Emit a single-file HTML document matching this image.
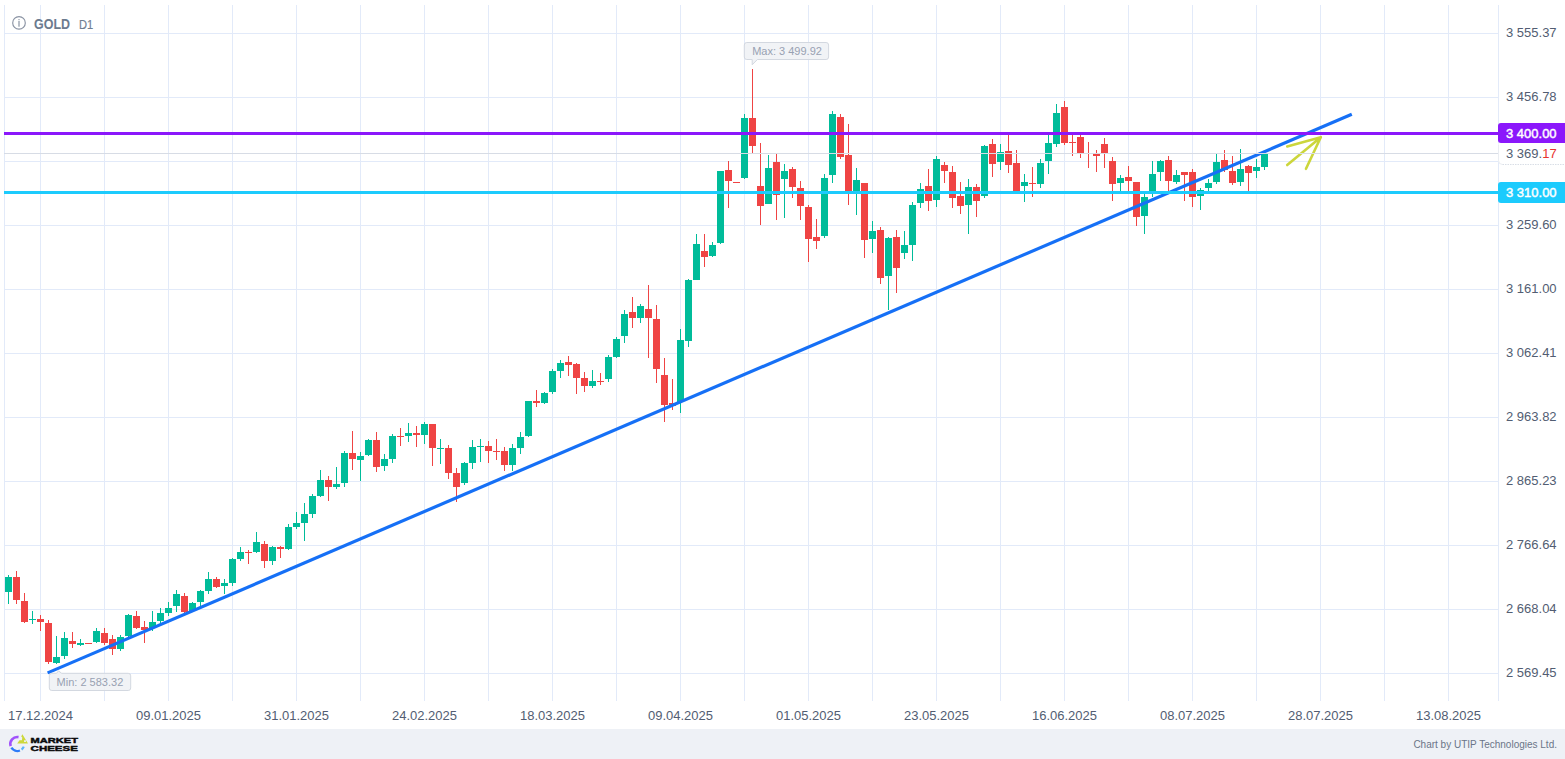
<!DOCTYPE html>
<html><head><meta charset="utf-8"><style>
html,body{margin:0;padding:0;background:#fff;}
body{width:1565px;height:759px;overflow:hidden;position:relative;font-family:"Liberation Sans",sans-serif;}
svg{position:absolute;left:0;top:0;}
text{font-family:"Liberation Sans",sans-serif;}
</style></head><body>
<svg width="1565" height="759" viewBox="0 0 1565 759">
<g shape-rendering="crispEdges">
<rect x="40" y="5" width="1" height="696" fill="#e2eaf9"/>
<rect x="104" y="5" width="1" height="696" fill="#e2eaf9"/>
<rect x="168" y="5" width="1" height="696" fill="#e2eaf9"/>
<rect x="232" y="5" width="1" height="696" fill="#e2eaf9"/>
<rect x="296" y="5" width="1" height="696" fill="#e2eaf9"/>
<rect x="360" y="5" width="1" height="696" fill="#e2eaf9"/>
<rect x="424" y="5" width="1" height="696" fill="#e2eaf9"/>
<rect x="488" y="5" width="1" height="696" fill="#e2eaf9"/>
<rect x="552" y="5" width="1" height="696" fill="#e2eaf9"/>
<rect x="616" y="5" width="1" height="696" fill="#e2eaf9"/>
<rect x="680" y="5" width="1" height="696" fill="#e2eaf9"/>
<rect x="744" y="5" width="1" height="696" fill="#e2eaf9"/>
<rect x="808" y="5" width="1" height="696" fill="#e2eaf9"/>
<rect x="872" y="5" width="1" height="696" fill="#e2eaf9"/>
<rect x="936" y="5" width="1" height="696" fill="#e2eaf9"/>
<rect x="1000" y="5" width="1" height="696" fill="#e2eaf9"/>
<rect x="1064" y="5" width="1" height="696" fill="#e2eaf9"/>
<rect x="1128" y="5" width="1" height="696" fill="#e2eaf9"/>
<rect x="1192" y="5" width="1" height="696" fill="#e2eaf9"/>
<rect x="1256" y="5" width="1" height="696" fill="#e2eaf9"/>
<rect x="1320" y="5" width="1" height="696" fill="#e2eaf9"/>
<rect x="1384" y="5" width="1" height="696" fill="#e2eaf9"/>
<rect x="1448" y="5" width="1" height="696" fill="#e2eaf9"/>
<rect x="4" y="5" width="1" height="696" fill="#e2eaf9"/>
<rect x="1498" y="5" width="1" height="696" fill="#e2eaf9"/>
<rect x="4" y="33" width="1494" height="1" fill="#e2eaf9"/>
<rect x="4" y="97" width="1494" height="1" fill="#e2eaf9"/>
<rect x="4" y="161" width="1494" height="1" fill="#e2eaf9"/>
<rect x="4" y="225" width="1494" height="1" fill="#e2eaf9"/>
<rect x="4" y="289" width="1494" height="1" fill="#e2eaf9"/>
<rect x="4" y="353" width="1494" height="1" fill="#e2eaf9"/>
<rect x="4" y="417" width="1494" height="1" fill="#e2eaf9"/>
<rect x="4" y="481" width="1494" height="1" fill="#e2eaf9"/>
<rect x="4" y="545" width="1494" height="1" fill="#e2eaf9"/>
<rect x="4" y="609" width="1494" height="1" fill="#e2eaf9"/>
<rect x="4" y="673" width="1494" height="1" fill="#e2eaf9"/>
<rect x="8" y="575" width="1" height="29" fill="#00bc9a"/>
<rect x="5" y="577" width="7" height="15" fill="#00bc9a"/>
<rect x="16" y="571" width="1" height="33" fill="#ef4444"/>
<rect x="13" y="577" width="7" height="23" fill="#ef4444"/>
<rect x="24" y="593" width="1" height="30" fill="#ef4444"/>
<rect x="21" y="601" width="7" height="21" fill="#ef4444"/>
<rect x="32" y="611" width="1" height="13" fill="#00bc9a"/>
<rect x="29" y="619" width="7" height="1" fill="#00bc9a"/>
<rect x="40" y="615" width="1" height="16" fill="#ef4444"/>
<rect x="37" y="619" width="7" height="3" fill="#ef4444"/>
<rect x="48" y="620" width="1" height="44" fill="#ef4444"/>
<rect x="45" y="623" width="7" height="39" fill="#ef4444"/>
<rect x="56" y="636" width="1" height="28" fill="#00bc9a"/>
<rect x="53" y="657" width="7" height="6" fill="#00bc9a"/>
<rect x="64" y="632" width="1" height="27" fill="#00bc9a"/>
<rect x="61" y="638" width="7" height="18" fill="#00bc9a"/>
<rect x="72" y="632" width="1" height="16" fill="#ef4444"/>
<rect x="69" y="641" width="7" height="3" fill="#ef4444"/>
<rect x="80" y="639" width="1" height="7" fill="#00bc9a"/>
<rect x="77" y="643" width="7" height="2" fill="#00bc9a"/>
<rect x="85" y="643" width="7" height="1" fill="#ef4444"/>
<rect x="96" y="628" width="1" height="15" fill="#00bc9a"/>
<rect x="93" y="631" width="7" height="11" fill="#00bc9a"/>
<rect x="104" y="628" width="1" height="17" fill="#ef4444"/>
<rect x="101" y="633" width="7" height="10" fill="#ef4444"/>
<rect x="112" y="635" width="1" height="20" fill="#ef4444"/>
<rect x="109" y="639" width="7" height="10" fill="#ef4444"/>
<rect x="120" y="635" width="1" height="16" fill="#00bc9a"/>
<rect x="117" y="637" width="7" height="12" fill="#00bc9a"/>
<rect x="128" y="614" width="1" height="24" fill="#00bc9a"/>
<rect x="125" y="615" width="7" height="21" fill="#00bc9a"/>
<rect x="136" y="611" width="1" height="18" fill="#ef4444"/>
<rect x="133" y="616" width="7" height="12" fill="#ef4444"/>
<rect x="144" y="621" width="1" height="22" fill="#ef4444"/>
<rect x="141" y="627" width="7" height="3" fill="#ef4444"/>
<rect x="152" y="611" width="1" height="20" fill="#00bc9a"/>
<rect x="149" y="622" width="7" height="6" fill="#00bc9a"/>
<rect x="160" y="608" width="1" height="15" fill="#00bc9a"/>
<rect x="157" y="613" width="7" height="8" fill="#00bc9a"/>
<rect x="168" y="602" width="1" height="14" fill="#00bc9a"/>
<rect x="165" y="608" width="7" height="5" fill="#00bc9a"/>
<rect x="176" y="590" width="1" height="22" fill="#00bc9a"/>
<rect x="173" y="594" width="7" height="12" fill="#00bc9a"/>
<rect x="184" y="593" width="1" height="20" fill="#ef4444"/>
<rect x="181" y="596" width="7" height="16" fill="#ef4444"/>
<rect x="192" y="602" width="1" height="9" fill="#00bc9a"/>
<rect x="189" y="603" width="7" height="8" fill="#00bc9a"/>
<rect x="200" y="590" width="1" height="16" fill="#00bc9a"/>
<rect x="197" y="591" width="7" height="11" fill="#00bc9a"/>
<rect x="208" y="572" width="1" height="22" fill="#00bc9a"/>
<rect x="205" y="579" width="7" height="12" fill="#00bc9a"/>
<rect x="216" y="577" width="1" height="11" fill="#ef4444"/>
<rect x="213" y="579" width="7" height="8" fill="#ef4444"/>
<rect x="224" y="579" width="1" height="15" fill="#00bc9a"/>
<rect x="221" y="583" width="7" height="3" fill="#00bc9a"/>
<rect x="232" y="558" width="1" height="28" fill="#00bc9a"/>
<rect x="229" y="559" width="7" height="24" fill="#00bc9a"/>
<rect x="240" y="547" width="1" height="14" fill="#00bc9a"/>
<rect x="237" y="552" width="7" height="7" fill="#00bc9a"/>
<rect x="248" y="550" width="1" height="14" fill="#ef4444"/>
<rect x="245" y="552" width="7" height="1" fill="#ef4444"/>
<rect x="256" y="532" width="1" height="21" fill="#00bc9a"/>
<rect x="253" y="542" width="7" height="10" fill="#00bc9a"/>
<rect x="264" y="541" width="1" height="27" fill="#ef4444"/>
<rect x="261" y="544" width="7" height="17" fill="#ef4444"/>
<rect x="272" y="546" width="1" height="19" fill="#00bc9a"/>
<rect x="269" y="547" width="7" height="14" fill="#00bc9a"/>
<rect x="280" y="546" width="1" height="12" fill="#ef4444"/>
<rect x="277" y="547" width="7" height="2" fill="#ef4444"/>
<rect x="288" y="524" width="1" height="26" fill="#00bc9a"/>
<rect x="285" y="527" width="7" height="22" fill="#00bc9a"/>
<rect x="296" y="512" width="1" height="17" fill="#00bc9a"/>
<rect x="293" y="523" width="7" height="4" fill="#00bc9a"/>
<rect x="304" y="503" width="1" height="38" fill="#00bc9a"/>
<rect x="301" y="514" width="7" height="9" fill="#00bc9a"/>
<rect x="312" y="494" width="1" height="24" fill="#00bc9a"/>
<rect x="309" y="496" width="7" height="18" fill="#00bc9a"/>
<rect x="320" y="470" width="1" height="27" fill="#00bc9a"/>
<rect x="317" y="480" width="7" height="16" fill="#00bc9a"/>
<rect x="328" y="476" width="1" height="25" fill="#ef4444"/>
<rect x="325" y="480" width="7" height="7" fill="#ef4444"/>
<rect x="336" y="467" width="1" height="22" fill="#00bc9a"/>
<rect x="333" y="484" width="7" height="3" fill="#00bc9a"/>
<rect x="344" y="451" width="1" height="36" fill="#00bc9a"/>
<rect x="341" y="453" width="7" height="30" fill="#00bc9a"/>
<rect x="352" y="431" width="1" height="39" fill="#ef4444"/>
<rect x="349" y="453" width="7" height="6" fill="#ef4444"/>
<rect x="360" y="452" width="1" height="29" fill="#00bc9a"/>
<rect x="357" y="456" width="7" height="4" fill="#00bc9a"/>
<rect x="368" y="439" width="1" height="17" fill="#00bc9a"/>
<rect x="365" y="440" width="7" height="15" fill="#00bc9a"/>
<rect x="376" y="432" width="1" height="40" fill="#ef4444"/>
<rect x="373" y="440" width="7" height="27" fill="#ef4444"/>
<rect x="384" y="454" width="1" height="17" fill="#00bc9a"/>
<rect x="381" y="459" width="7" height="7" fill="#00bc9a"/>
<rect x="392" y="434" width="1" height="29" fill="#00bc9a"/>
<rect x="389" y="436" width="7" height="23" fill="#00bc9a"/>
<rect x="400" y="428" width="1" height="18" fill="#ef4444"/>
<rect x="397" y="436" width="7" height="1" fill="#ef4444"/>
<rect x="408" y="423" width="1" height="19" fill="#00bc9a"/>
<rect x="405" y="433" width="7" height="3" fill="#00bc9a"/>
<rect x="416" y="426" width="1" height="21" fill="#ef4444"/>
<rect x="413" y="433" width="7" height="2" fill="#ef4444"/>
<rect x="424" y="422" width="1" height="22" fill="#00bc9a"/>
<rect x="421" y="424" width="7" height="11" fill="#00bc9a"/>
<rect x="432" y="424" width="1" height="42" fill="#ef4444"/>
<rect x="429" y="424" width="7" height="24" fill="#ef4444"/>
<rect x="440" y="439" width="1" height="25" fill="#00bc9a"/>
<rect x="437" y="448" width="7" height="1" fill="#00bc9a"/>
<rect x="448" y="445" width="1" height="34" fill="#ef4444"/>
<rect x="445" y="448" width="7" height="25" fill="#ef4444"/>
<rect x="456" y="468" width="1" height="34" fill="#ef4444"/>
<rect x="453" y="473" width="7" height="14" fill="#ef4444"/>
<rect x="464" y="462" width="1" height="23" fill="#00bc9a"/>
<rect x="461" y="463" width="7" height="20" fill="#00bc9a"/>
<rect x="472" y="440" width="1" height="29" fill="#00bc9a"/>
<rect x="469" y="447" width="7" height="16" fill="#00bc9a"/>
<rect x="480" y="439" width="1" height="23" fill="#00bc9a"/>
<rect x="477" y="446" width="7" height="1" fill="#00bc9a"/>
<rect x="488" y="441" width="1" height="22" fill="#ef4444"/>
<rect x="485" y="446" width="7" height="5" fill="#ef4444"/>
<rect x="496" y="439" width="1" height="21" fill="#ef4444"/>
<rect x="493" y="451" width="7" height="1" fill="#ef4444"/>
<rect x="504" y="447" width="1" height="24" fill="#ef4444"/>
<rect x="501" y="451" width="7" height="14" fill="#ef4444"/>
<rect x="512" y="444" width="1" height="27" fill="#00bc9a"/>
<rect x="509" y="448" width="7" height="17" fill="#00bc9a"/>
<rect x="520" y="432" width="1" height="22" fill="#00bc9a"/>
<rect x="517" y="437" width="7" height="11" fill="#00bc9a"/>
<rect x="528" y="401" width="1" height="36" fill="#00bc9a"/>
<rect x="525" y="401" width="7" height="35" fill="#00bc9a"/>
<rect x="536" y="390" width="1" height="17" fill="#ef4444"/>
<rect x="533" y="401" width="7" height="2" fill="#ef4444"/>
<rect x="544" y="392" width="1" height="12" fill="#00bc9a"/>
<rect x="541" y="393" width="7" height="10" fill="#00bc9a"/>
<rect x="552" y="369" width="1" height="25" fill="#00bc9a"/>
<rect x="549" y="371" width="7" height="21" fill="#00bc9a"/>
<rect x="560" y="360" width="1" height="18" fill="#00bc9a"/>
<rect x="557" y="363" width="7" height="8" fill="#00bc9a"/>
<rect x="568" y="356" width="1" height="20" fill="#ef4444"/>
<rect x="565" y="362" width="7" height="3" fill="#ef4444"/>
<rect x="576" y="363" width="1" height="31" fill="#ef4444"/>
<rect x="573" y="364" width="7" height="14" fill="#ef4444"/>
<rect x="584" y="372" width="1" height="20" fill="#ef4444"/>
<rect x="581" y="378" width="7" height="8" fill="#ef4444"/>
<rect x="592" y="370" width="1" height="18" fill="#00bc9a"/>
<rect x="589" y="381" width="7" height="5" fill="#00bc9a"/>
<rect x="600" y="373" width="1" height="12" fill="#ef4444"/>
<rect x="597" y="381" width="7" height="1" fill="#ef4444"/>
<rect x="608" y="355" width="1" height="27" fill="#00bc9a"/>
<rect x="605" y="357" width="7" height="22" fill="#00bc9a"/>
<rect x="616" y="337" width="1" height="21" fill="#00bc9a"/>
<rect x="613" y="339" width="7" height="18" fill="#00bc9a"/>
<rect x="624" y="310" width="1" height="33" fill="#00bc9a"/>
<rect x="621" y="314" width="7" height="22" fill="#00bc9a"/>
<rect x="632" y="297" width="1" height="31" fill="#ef4444"/>
<rect x="629" y="312" width="7" height="6" fill="#ef4444"/>
<rect x="640" y="304" width="1" height="19" fill="#00bc9a"/>
<rect x="637" y="306" width="7" height="12" fill="#00bc9a"/>
<rect x="648" y="285" width="1" height="73" fill="#ef4444"/>
<rect x="645" y="309" width="7" height="9" fill="#ef4444"/>
<rect x="656" y="305" width="1" height="78" fill="#ef4444"/>
<rect x="653" y="319" width="7" height="50" fill="#ef4444"/>
<rect x="664" y="358" width="1" height="64" fill="#ef4444"/>
<rect x="661" y="375" width="7" height="30" fill="#ef4444"/>
<rect x="672" y="379" width="1" height="31" fill="#ef4444"/>
<rect x="669" y="403" width="7" height="3" fill="#ef4444"/>
<rect x="680" y="329" width="1" height="84" fill="#00bc9a"/>
<rect x="677" y="340" width="7" height="62" fill="#00bc9a"/>
<rect x="688" y="279" width="1" height="68" fill="#00bc9a"/>
<rect x="685" y="280" width="7" height="61" fill="#00bc9a"/>
<rect x="696" y="234" width="1" height="46" fill="#00bc9a"/>
<rect x="693" y="244" width="7" height="36" fill="#00bc9a"/>
<rect x="704" y="234" width="1" height="33" fill="#ef4444"/>
<rect x="701" y="251" width="7" height="6" fill="#ef4444"/>
<rect x="712" y="242" width="1" height="15" fill="#00bc9a"/>
<rect x="709" y="245" width="7" height="11" fill="#00bc9a"/>
<rect x="720" y="171" width="1" height="73" fill="#00bc9a"/>
<rect x="717" y="171" width="7" height="72" fill="#00bc9a"/>
<rect x="728" y="161" width="1" height="47" fill="#ef4444"/>
<rect x="725" y="170" width="7" height="11" fill="#ef4444"/>
<rect x="733" y="182" width="7" height="1" fill="#ef4444"/>
<rect x="744" y="114" width="1" height="65" fill="#00bc9a"/>
<rect x="741" y="118" width="7" height="60" fill="#00bc9a"/>
<rect x="752" y="69" width="1" height="85" fill="#ef4444"/>
<rect x="749" y="118" width="7" height="28" fill="#ef4444"/>
<rect x="760" y="143" width="1" height="82" fill="#ef4444"/>
<rect x="757" y="186" width="7" height="20" fill="#ef4444"/>
<rect x="768" y="155" width="1" height="49" fill="#00bc9a"/>
<rect x="765" y="168" width="7" height="36" fill="#00bc9a"/>
<rect x="776" y="154" width="1" height="66" fill="#ef4444"/>
<rect x="773" y="162" width="7" height="33" fill="#ef4444"/>
<rect x="784" y="164" width="1" height="54" fill="#00bc9a"/>
<rect x="781" y="171" width="7" height="8" fill="#00bc9a"/>
<rect x="792" y="167" width="1" height="31" fill="#ef4444"/>
<rect x="789" y="169" width="7" height="18" fill="#ef4444"/>
<rect x="800" y="181" width="1" height="39" fill="#ef4444"/>
<rect x="797" y="188" width="7" height="18" fill="#ef4444"/>
<rect x="808" y="205" width="1" height="57" fill="#ef4444"/>
<rect x="805" y="207" width="7" height="32" fill="#ef4444"/>
<rect x="816" y="219" width="1" height="30" fill="#ef4444"/>
<rect x="813" y="237" width="7" height="4" fill="#ef4444"/>
<rect x="824" y="174" width="1" height="64" fill="#00bc9a"/>
<rect x="821" y="178" width="7" height="58" fill="#00bc9a"/>
<rect x="832" y="111" width="1" height="72" fill="#00bc9a"/>
<rect x="829" y="114" width="7" height="61" fill="#00bc9a"/>
<rect x="840" y="114" width="1" height="45" fill="#ef4444"/>
<rect x="837" y="117" width="7" height="40" fill="#ef4444"/>
<rect x="848" y="124" width="1" height="81" fill="#ef4444"/>
<rect x="845" y="155" width="7" height="36" fill="#ef4444"/>
<rect x="856" y="168" width="1" height="47" fill="#00bc9a"/>
<rect x="853" y="180" width="7" height="11" fill="#00bc9a"/>
<rect x="864" y="183" width="1" height="75" fill="#ef4444"/>
<rect x="861" y="183" width="7" height="57" fill="#ef4444"/>
<rect x="872" y="221" width="1" height="32" fill="#00bc9a"/>
<rect x="869" y="231" width="7" height="8" fill="#00bc9a"/>
<rect x="880" y="227" width="1" height="57" fill="#ef4444"/>
<rect x="877" y="230" width="7" height="48" fill="#ef4444"/>
<rect x="888" y="237" width="1" height="73" fill="#00bc9a"/>
<rect x="885" y="238" width="7" height="38" fill="#00bc9a"/>
<rect x="896" y="230" width="1" height="63" fill="#ef4444"/>
<rect x="893" y="237" width="7" height="31" fill="#ef4444"/>
<rect x="904" y="231" width="1" height="28" fill="#00bc9a"/>
<rect x="901" y="245" width="7" height="8" fill="#00bc9a"/>
<rect x="912" y="202" width="1" height="59" fill="#00bc9a"/>
<rect x="909" y="205" width="7" height="40" fill="#00bc9a"/>
<rect x="920" y="183" width="1" height="25" fill="#00bc9a"/>
<rect x="917" y="189" width="7" height="14" fill="#00bc9a"/>
<rect x="928" y="169" width="1" height="42" fill="#ef4444"/>
<rect x="925" y="186" width="7" height="15" fill="#ef4444"/>
<rect x="936" y="156" width="1" height="51" fill="#00bc9a"/>
<rect x="933" y="159" width="7" height="41" fill="#00bc9a"/>
<rect x="944" y="162" width="1" height="21" fill="#ef4444"/>
<rect x="941" y="165" width="7" height="6" fill="#ef4444"/>
<rect x="952" y="166" width="1" height="42" fill="#ef4444"/>
<rect x="949" y="172" width="7" height="26" fill="#ef4444"/>
<rect x="960" y="182" width="1" height="32" fill="#ef4444"/>
<rect x="957" y="196" width="7" height="10" fill="#ef4444"/>
<rect x="968" y="179" width="1" height="55" fill="#00bc9a"/>
<rect x="965" y="187" width="7" height="18" fill="#00bc9a"/>
<rect x="976" y="184" width="1" height="33" fill="#ef4444"/>
<rect x="973" y="187" width="7" height="14" fill="#ef4444"/>
<rect x="984" y="145" width="1" height="53" fill="#00bc9a"/>
<rect x="981" y="146" width="7" height="50" fill="#00bc9a"/>
<rect x="992" y="139" width="1" height="38" fill="#ef4444"/>
<rect x="989" y="144" width="7" height="20" fill="#ef4444"/>
<rect x="1000" y="144" width="1" height="26" fill="#00bc9a"/>
<rect x="997" y="152" width="7" height="10" fill="#00bc9a"/>
<rect x="1008" y="135" width="1" height="38" fill="#ef4444"/>
<rect x="1005" y="151" width="7" height="14" fill="#ef4444"/>
<rect x="1016" y="150" width="1" height="42" fill="#ef4444"/>
<rect x="1013" y="163" width="7" height="29" fill="#ef4444"/>
<rect x="1024" y="174" width="1" height="28" fill="#00bc9a"/>
<rect x="1021" y="182" width="7" height="4" fill="#00bc9a"/>
<rect x="1032" y="167" width="1" height="30" fill="#ef4444"/>
<rect x="1029" y="183" width="7" height="1" fill="#ef4444"/>
<rect x="1040" y="159" width="1" height="29" fill="#00bc9a"/>
<rect x="1037" y="163" width="7" height="21" fill="#00bc9a"/>
<rect x="1048" y="135" width="1" height="39" fill="#00bc9a"/>
<rect x="1045" y="143" width="7" height="18" fill="#00bc9a"/>
<rect x="1056" y="104" width="1" height="43" fill="#00bc9a"/>
<rect x="1053" y="113" width="7" height="31" fill="#00bc9a"/>
<rect x="1064" y="101" width="1" height="44" fill="#ef4444"/>
<rect x="1061" y="107" width="7" height="36" fill="#ef4444"/>
<rect x="1072" y="135" width="1" height="21" fill="#ef4444"/>
<rect x="1069" y="142" width="7" height="1" fill="#ef4444"/>
<rect x="1080" y="135" width="1" height="23" fill="#ef4444"/>
<rect x="1077" y="137" width="7" height="16" fill="#ef4444"/>
<rect x="1088" y="142" width="1" height="26" fill="#ef4444"/>
<rect x="1085" y="153" width="7" height="1" fill="#ef4444"/>
<rect x="1096" y="150" width="1" height="22" fill="#ef4444"/>
<rect x="1093" y="154" width="7" height="2" fill="#ef4444"/>
<rect x="1104" y="138" width="1" height="30" fill="#ef4444"/>
<rect x="1101" y="144" width="7" height="9" fill="#ef4444"/>
<rect x="1112" y="157" width="1" height="44" fill="#ef4444"/>
<rect x="1109" y="161" width="7" height="23" fill="#ef4444"/>
<rect x="1120" y="175" width="1" height="16" fill="#00bc9a"/>
<rect x="1117" y="178" width="7" height="5" fill="#00bc9a"/>
<rect x="1128" y="166" width="1" height="25" fill="#ef4444"/>
<rect x="1125" y="177" width="7" height="4" fill="#ef4444"/>
<rect x="1136" y="182" width="1" height="44" fill="#ef4444"/>
<rect x="1133" y="182" width="7" height="35" fill="#ef4444"/>
<rect x="1144" y="194" width="1" height="40" fill="#00bc9a"/>
<rect x="1141" y="197" width="7" height="19" fill="#00bc9a"/>
<rect x="1152" y="161" width="1" height="36" fill="#00bc9a"/>
<rect x="1149" y="174" width="7" height="20" fill="#00bc9a"/>
<rect x="1160" y="160" width="1" height="21" fill="#00bc9a"/>
<rect x="1157" y="161" width="7" height="11" fill="#00bc9a"/>
<rect x="1168" y="156" width="1" height="35" fill="#ef4444"/>
<rect x="1165" y="160" width="7" height="21" fill="#ef4444"/>
<rect x="1176" y="170" width="1" height="14" fill="#00bc9a"/>
<rect x="1173" y="175" width="7" height="7" fill="#00bc9a"/>
<rect x="1184" y="172" width="1" height="29" fill="#ef4444"/>
<rect x="1181" y="172" width="7" height="3" fill="#ef4444"/>
<rect x="1192" y="169" width="1" height="38" fill="#ef4444"/>
<rect x="1189" y="172" width="7" height="25" fill="#ef4444"/>
<rect x="1200" y="188" width="1" height="22" fill="#00bc9a"/>
<rect x="1197" y="190" width="7" height="6" fill="#00bc9a"/>
<rect x="1208" y="179" width="1" height="12" fill="#00bc9a"/>
<rect x="1205" y="183" width="7" height="5" fill="#00bc9a"/>
<rect x="1216" y="154" width="1" height="30" fill="#00bc9a"/>
<rect x="1213" y="162" width="7" height="20" fill="#00bc9a"/>
<rect x="1224" y="150" width="1" height="22" fill="#ef4444"/>
<rect x="1221" y="160" width="7" height="10" fill="#ef4444"/>
<rect x="1232" y="156" width="1" height="29" fill="#ef4444"/>
<rect x="1229" y="171" width="7" height="12" fill="#ef4444"/>
<rect x="1240" y="149" width="1" height="37" fill="#00bc9a"/>
<rect x="1237" y="169" width="7" height="13" fill="#00bc9a"/>
<rect x="1248" y="165" width="1" height="26" fill="#ef4444"/>
<rect x="1245" y="166" width="7" height="7" fill="#ef4444"/>
<rect x="1256" y="159" width="1" height="19" fill="#00bc9a"/>
<rect x="1253" y="167" width="7" height="4" fill="#00bc9a"/>
<rect x="1264" y="154" width="1" height="16" fill="#00bc9a"/>
<rect x="1261" y="154" width="7" height="13" fill="#00bc9a"/>
</g>
<line x1="47.6" y1="672.9" x2="1351.8" y2="114.3" stroke="#1670f6" stroke-width="3.2"/>
<path d="M1287.2 146.4 L1320.8 137.2 L1306 168.8 M1287.2 165 L1320.8 137.2" fill="none" stroke="#ccd63c" stroke-width="2.6" stroke-linecap="round" stroke-linejoin="round"/>
<g shape-rendering="crispEdges">
<rect x="4" y="153" width="1494" height="1" fill="#d7dce5"/>
<rect x="4" y="132" width="1494" height="3" fill="#8b17fb"/>
<rect x="4" y="191" width="1494" height="3" fill="#1ccbfd"/>
</g>

<!-- tooltips -->
<g>
<path d="M746.8 42.5 H826.1 A2.5 2.5 0 0 1 828.6 45 V57 A2.5 2.5 0 0 1 826.1 59.5 H757.4 L752.2 64.8 V59.5 H746.8 A2.5 2.5 0 0 1 744.3 57 V45 A2.5 2.5 0 0 1 746.8 42.5 Z" fill="rgba(238,241,245,0.85)" stroke="#d3d8e0" stroke-width="1"/>
<text x="752.2" y="55" font-size="11" fill="#98a1b2">Max: 3 499.92</text>
<path d="M51.8 673.3 H56.5 L58.5 670.9 L61.7 673.3 H128.2 A2.5 2.5 0 0 1 130.7 675.8 V688 A2.5 2.5 0 0 1 128.2 690.5 H51.8 A2.5 2.5 0 0 1 49.3 688 V675.8 A2.5 2.5 0 0 1 51.8 673.3 Z" fill="rgba(238,241,245,0.85)" stroke="#d3d8e0" stroke-width="1"/>
<text x="56.6" y="686" font-size="11" fill="#98a1b2">Min: 2 583.32</text>
</g>

<!-- header -->
<circle cx="19" cy="22.9" r="6.3" fill="none" stroke="#8a93a3" stroke-width="1.15"/>
<rect x="18.4" y="19.1" width="1.2" height="1.1" fill="#8a93a3"/>
<rect x="18.4" y="21" width="1.2" height="5.7" fill="#8a93a3"/>
<text x="34" y="28.9" font-size="13.8" font-weight="bold" fill="#6b7a8e" textLength="36" lengthAdjust="spacingAndGlyphs">GOLD</text>
<text x="79" y="28.9" font-size="13.5" fill="#6f7d91" stroke="#6f7d91" stroke-width="0.2" textLength="14.2" lengthAdjust="spacingAndGlyphs">D1</text>

<!-- axis -->
<g font-size="13" fill="#525d72">
<text x="1506" y="37">3 555.37</text>
<text x="1506" y="101">3 456.78</text>
<text x="1506" y="229">3 259.60</text>
<text x="1506" y="293">3 161.00</text>
<text x="1506" y="357">3 062.41</text>
<text x="1506" y="421">2 963.82</text>
<text x="1506" y="485">2 865.23</text>
<text x="1506" y="549">2 766.64</text>
<text x="1506" y="613">2 668.04</text>
<text x="1506" y="677">2 569.45</text>
<text x="40.5" y="720" text-anchor="middle">17.12.2024</text>
<text x="168.5" y="720" text-anchor="middle">09.01.2025</text>
<text x="296.5" y="720" text-anchor="middle">31.01.2025</text>
<text x="424.5" y="720" text-anchor="middle">24.02.2025</text>
<text x="552.5" y="720" text-anchor="middle">18.03.2025</text>
<text x="680.5" y="720" text-anchor="middle">09.04.2025</text>
<text x="808.5" y="720" text-anchor="middle">01.05.2025</text>
<text x="936.5" y="720" text-anchor="middle">23.05.2025</text>
<text x="1064.5" y="720" text-anchor="middle">16.06.2025</text>
<text x="1192.5" y="720" text-anchor="middle">08.07.2025</text>
<text x="1320.5" y="720" text-anchor="middle">28.07.2025</text>
<text x="1448.5" y="720" text-anchor="middle">13.08.2025</text>
</g>

<!-- price labels -->
<path d="M1501 123 H1565 V143 H1501 A3 3 0 0 1 1498 140 V126 A3 3 0 0 1 1501 123 Z" fill="#8b17fb"/>
<text x="1506" y="137.6" font-size="13" fill="#fff" stroke="#fff" stroke-width="0.45">3 400.00</text>
<path d="M1498.5 143 V160.5 A4 4 0 0 0 1502.5 164.5 H1565 V143 Z" fill="#fff"/>
<path d="M1498.5 145 V160.5 A4 4 0 0 0 1502.5 164.5" fill="none" stroke="#eaedf2" stroke-width="1"/>
<path d="M1502.5 164.5 H1565" fill="none" stroke="#d9dee6" stroke-width="1" stroke-dasharray="1.5 1"/>
<text x="1506" y="157.7" font-size="13" fill="#525d72">3 369.<tspan fill="#e8332f">17</tspan></text>
<path d="M1501 182 H1565 V203 H1501 A3 3 0 0 1 1498 200 V185 A3 3 0 0 1 1501 182 Z" fill="#1ccbfd"/>
<text x="1506" y="196.9" font-size="13" fill="#fff" stroke="#fff" stroke-width="0.45">3 310.00</text>

<!-- footer -->
<rect x="0" y="729" width="1565" height="30" fill="#eef1f6"/>
<text x="1557" y="748.2" font-size="10" fill="#6b7588" text-anchor="end">Chart by UTIP Technologies Ltd.</text>
<g>
<path d="M18.52 737.11 A7.0 7.0 0 0 0 10.61 746.05" fill="none" stroke="#a052fb" stroke-width="2.6"/>
<path d="M11.36 747.71 A7.0 7.0 0 0 0 19.92 750.49" fill="none" stroke="#2d7cf8" stroke-width="2.4"/>
<path d="M21.61 749.52 A7.0 7.0 0 0 0 23.79 746.62" fill="none" stroke="#5ab3fa" stroke-width="2.2"/>
<path d="M17.2 743.6 L19.5 740.3 L21.9 740.3 L22.3 737.4 L21.2 736.4 L22.4 734.2 L28 743.6 Z" fill="#cdd83a"/>
<rect x="24" y="740.3" width="2" height="1.6" fill="#eef1f6"/>
<text x="30.6" y="743.1" font-size="8" font-weight="bold" fill="#0a0a0a" stroke="#0a0a0a" stroke-width="0.45" textLength="47.3" lengthAdjust="spacingAndGlyphs">MARKET</text>
<text x="30.6" y="751" font-size="8" font-weight="bold" fill="#0a0a0a" stroke="#0a0a0a" stroke-width="0.45" textLength="47.3" lengthAdjust="spacingAndGlyphs">CHEESE</text>
</g>
</svg>
</body></html>
